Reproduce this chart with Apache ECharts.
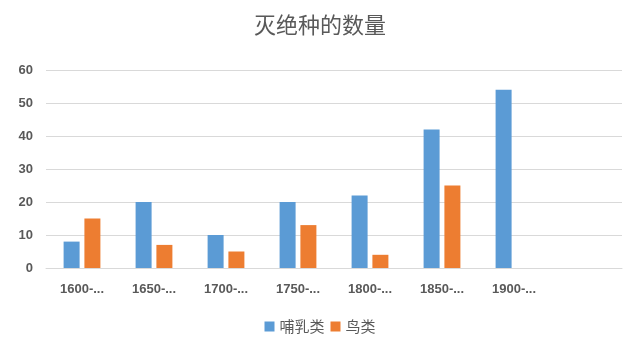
<!DOCTYPE html>
<html>
<head>
<meta charset="utf-8">
<script src="https://cdn.jsdelivr.net/npm/echarts@6/dist/echarts.min.js"></script>
<style>
  html, body { margin: 0; padding: 0; background: #fff; }
  #chart { width: 640px; height: 353px; }
</style>
</head>
<body>
<div id="chart"></div>
<script>
var categories = ['1600-...', '1650-...', '1700-...', '1750-...', '1800-...', '1850-...', '1900-...', '']
var mammals = [8, 20, 10, 20, 22, 42, 54, null]
var birds = [15, 7, 5, 13, 4, 25, null, null]
var yTicks = { min: 0, max: 60, interval: 10 }

var chart = echarts.init(document.getElementById('chart'))
chart.setOption({
  animation: false,
  title: {
    text: '灭绝种的数量',
    left: 'center',
    top: 9,
    textStyle: {
      color: '#595959',
      fontWeight: 'normal',
      fontSize: 22,
      fontFamily: 'Noto Sans CJK SC'
    }
  },
  legend: {
    bottom: 14,
    left: 'center',
    itemWidth: 10,
    itemHeight: 10,
    itemGap: 6,
    icon: 'rect',
    textStyle: {
      color: '#595959',
      fontSize: 15,
      fontFamily: 'Noto Sans CJK SC'
    },
    data: ['哺乳类', '鸟类']
  },
  grid: {
    left: 46,
    right: 18,
    top: 70,
    bottom: 85
  },
  xAxis: {
    type: 'category',
    data: categories,
    axisTick: { show: false },
    axisLine: { lineStyle: { color: '#D9D9D9' } },
    axisLabel: {
      color: '#595959',
      fontSize: 13,
      fontWeight: 'bold',
      margin: 15,
      interval: 0
    }
  },
  yAxis: {
    type: 'value',
    min: yTicks.min,
    max: yTicks.max,
    interval: yTicks.interval,
    axisLine: { show: false },
    axisTick: { show: false },
    splitLine: { lineStyle: { color: '#D9D9D9' } },
    axisLabel: {
      color: '#595959',
      fontSize: 13,
      fontWeight: 'bold',
      margin: 13
    }
  },
  series: [
    {
      name: '哺乳类',
      type: 'bar',
      data: mammals,
      barWidth: 16,
      barGap: '30%',
      itemStyle: { color: '#5B9BD5' }
    },
    {
      name: '鸟类',
      type: 'bar',
      data: birds,
      barWidth: 16,
      itemStyle: { color: '#ED7D31' }
    }
  ]
})
</script>
</body>
</html>
